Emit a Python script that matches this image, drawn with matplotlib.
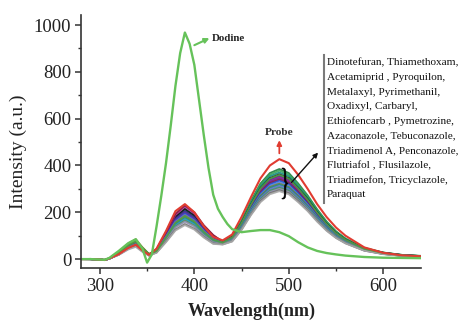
import matplotlib
matplotlib.use("Agg")
import matplotlib.pyplot as plt
from matplotlib.lines import Line2D
from matplotlib.textpath import TextPath
from matplotlib.patches import PathPatch
from matplotlib.font_manager import FontProperties
from matplotlib.transforms import Affine2D
from matplotlib.ticker import MultipleLocator

plt.rcParams['font.family'] = ['Liberation Serif', 'DejaVu Serif']

# ---------------- data ----------------
wavelength = [280, 290, 300, 305, 310, 320, 330, 338, 345, 352, 360, 370, 380, 390, 400, 410,
              420, 430, 440, 450, 460, 470, 480, 490, 500, 510, 520, 530, 540, 550, 560, 580,
              600, 620, 640]

pesticide_names = ["Dinotefuran", "Thiamethoxam", "Acetamiprid", "Pyroquilon", "Metalaxyl",
                   "Pyrimethanil", "Oxadixyl", "Carbaryl", "Ethiofencarb", "Pymetrozine",
                   "Azaconazole", "Tebuconazole", "Triadimenol A", "Penconazole", "Flutriafol",
                   "Flusilazole", "Triadimefon", "Tricyclazole", "Paraquat"]

pesticide_values = [
    [0,0,-2,-4,3,24,55,70,42,20, 39,105,177,210,182,133,94, 76, 100,164,249,323,368,385,368,323,272,213,161,119,88,48,28,18,14],
    [0,1,-2,-4,3,27,62,80,48,22, 35,95,160,190,165,120,85, 72, 98,161,245,317,361,378,361,317,267,209,158,117,87,47,28,18,13],
    [0,0,-2,-3,2,22,51,65,39,18, 37,100,168,200,174,126,90, 74, 96,158,239,310,354,370,354,310,261,205,154,114,85,46,27,17,13],
    [0,0,-3,-4,2,20,47,60,36,17, 40,108,181,215,187,136,96, 73, 94,154,234,303,346,362,346,303,256,200,151,112,83,45,27,17,13],
    [0,-1,-2,-4,3,21,48,62,37,18, 38,103,173,205,178,129,92, 72, 92,151,230,298,339,355,339,298,251,196,148,110,81,44,26,17,12],
    [0,0,-2,-4,3,23,53,68,41,19, 41,112,189,225,195,142,101, 75, 91,149,226,293,334,350,334,293,247,193,146,108,80,43,26,16,12],
    [0,0,-2,-4,2,20,45,58,35,16, 37,100,168,200,174,126,90, 70, 89,147,223,289,330,345,330,289,244,191,144,107,79,43,25,16,12],
    [0,0,-2,-4,3,24,56,72,43,20, 42,115,194,230,200,145,103, 74, 88,145,220,285,325,340,325,285,240,188,142,105,78,42,25,16,12],
    [0,0,-2,-4,2,20,47,60,36,17, 36,97,164,195,169,123,87, 70, 87,143,217,281,320,335,320,281,236,185,140,103,77,41,25,16,12],
    [0,0,-2,-4,3,21,49,63,38,18, 34,93,156,185,161,117,83, 69, 85,140,212,275,314,328,314,275,232,181,137,101,75,41,24,15,12],
    [0,1,-1,-3,4,29,66,85,51,22, 33,90,152,180,156,114,80, 68, 83,137,208,270,308,322,308,270,227,178,134,99,74,40,24,15,11],
    [0,0,-2,-4,2,22,51,66,40,18, 32,87,147,175,152,111,78, 67, 82,136,206,266,304,318,304,266,224,176,133,98,73,39,23,15,11],
    [0,0,-2,-4,2,19,44,57,34,16, 35,95,160,190,165,120,85, 68, 81,133,202,262,298,312,298,262,220,173,130,96,72,39,23,15,11],
    [0,0,-2,-4,3,22,50,64,38,18, 31,85,143,170,148,107,76, 66, 80,131,199,258,294,308,294,258,217,170,129,95,71,38,23,14,11],
    [0,0,-2,-3,3,26,58,75,45,20, 30,82,139,165,143,104,74, 66, 79,130,197,256,292,305,292,256,215,169,127,94,70,38,22,14,11],
    [0,0,-2,-4,2,19,43,55,33,15, 29,80,135,160,139,101,72, 64, 78,128,194,251,287,300,287,251,212,166,125,93,69,37,22,14,11],
    [0,0,-2,-4,2,20,45,58,35,16, 28,75,126,150,130,95,67, 63, 76,126,191,247,282,295,282,247,208,163,123,91,68,36,22,14,10],
    [0,0,-2,-4,2,18,41,52,31,15, 27,72,122,145,126,92,65, 62, 75,124,188,243,277,290,277,243,205,160,121,90,67,36,21,14,10],
    [0,0,-2,-3,3,27,61,78,47,21, 34,93,156,185,161,117,83, 71, 93,154,233,302,344,360,344,302,254,199,150,111,83,44,26,17,13],
]

pesticide_colors = ['#1e7b3c', '#3aa655', '#0f8f7f', '#111111', '#2c2c8c', '#a0208f', '#6b2d8f',
                    '#8b1a3a', '#1f4fd0', '#4a7fd9', '#7a7a20', '#188a9a', '#8060c0', '#2aa0c8',
                    '#5a8a5a', '#9090b0', '#707070', '#a8a8a8', '#4f9f3f']

probe_values = [0,0,-2,-4,3,21,48,62,37,18, 45,120,205,235,200,140,95, 80, 105,180,265,345,400,427,410,360,300,235,180,135,100,50,27,16,12]

dodine_wavelength = [280, 290, 300, 305, 310, 320, 330, 338, 345, 350, 355, 360, 365, 370, 375, 380,
                     385, 390, 395, 400, 405, 410, 415, 420, 425, 430, 435, 440, 450, 460, 470,
                     480, 490, 500, 510, 520, 530, 540, 550, 560, 580, 600, 620, 640]
dodine_values = [0, 0, -2, -3, 5, 35, 68, 85, 45, -15, 20, 140, 270, 410, 570, 740,
                 880, 968, 920, 830, 680, 530, 390, 275, 215, 180, 150, 128, 115, 120, 124,
                 124, 115, 98, 72, 50, 35, 26, 20, 15, 9, 6, 5, 4]

yticks = [0, 200, 400, 600, 800, 1000]
xticks = [300, 400, 500, 600]

legend_lines = ["Dinotefuran, Thiamethoxam,", "Acetamiprid , Pyroquilon,",
                "Metalaxyl, Pyrimethanil,", "Oxadixyl, Carbaryl,",
                "Ethiofencarb , Pymetrozine,", "Azaconazole, Tebuconazole,",
                "Triadimenol A, Penconazole,", "Flutriafol , Flusilazole,",
                "Triadimefon, Tricyclazole,", "Paraquat"]

# ---------------- figure ----------------
W, H = 463, 321
fig = plt.figure(figsize=(W / 100, H / 100), dpi=100)
ax = fig.add_axes([81 / W, 1 - 268 / H, 340 / W, 253 / H])

for name, vals, c in zip(pesticide_names, pesticide_values, pesticide_colors):
    ax.plot(wavelength, vals, color=c, lw=1.3, alpha=0.9, label=name)
ax.plot(wavelength, probe_values, color='#e03c31', lw=1.5, label='Probe')
ax.plot(dodine_wavelength, dodine_values, color='#66c25a', lw=1.7, label='Dodine')

ax.set_xlim(280, 640)
ax.set_ylim(-38, 1043)
ax.set_xticks(xticks)
ax.set_yticks(yticks)
ax.xaxis.set_minor_locator(MultipleLocator(50))
ax.yaxis.set_minor_locator(MultipleLocator(100))
for s in ['top', 'right']:
    ax.spines[s].set_visible(False)
for s in ['left', 'bottom']:
    ax.spines[s].set_linewidth(1.2)
    ax.spines[s].set_color('#333333')
ax.tick_params(which='major', direction='out', length=4, width=1.1, colors='#333333',
               labelsize=13.5, labelcolor='#222222', pad=3)
ax.tick_params(which='minor', direction='out', length=2.5, width=1.0, colors='#333333')

fig.text(18 / W, 1 - 152 / H, "Intensity (a.u.)", rotation=90, ha='center', va='center',
         fontsize=14, color='#222222')
fig.text(252 / W, 1 - 311 / H, "Wavelength(nm)", ha='center', va='center',
         fontsize=13, fontweight='bold', color='#222222')

# Dodine annotation
ax.annotate('', xy=(416, 944), xytext=(400, 914),
            arrowprops=dict(arrowstyle='-|>', color='#66c25a', lw=1.5, mutation_scale=7,
                            shrinkA=0, shrinkB=0))
ax.text(418.5, 944, "Dodine", ha='left', va='center', fontsize=7.8, fontweight='bold',
        color='#222222')

# Probe annotation
ax.annotate('', xy=(490, 508), xytext=(490, 452),
            arrowprops=dict(arrowstyle='-|>', color='#e03c31', lw=1.3, mutation_scale=7,
                            shrinkA=0, shrinkB=0))
ax.text(490, 540, "Probe", ha='center', va='center', fontsize=8.2, fontweight='bold',
        color='#333333')

# black arrow to list
ax.annotate('', xy=(531, 455), xytext=(503, 328),
            arrowprops=dict(arrowstyle='-|>', color='#111111', lw=1.0, mutation_scale=7,
                            shrinkA=0, shrinkB=0))

# brace
tp = TextPath((0, 0), '}', size=1, prop=FontProperties(family='Liberation Serif'))
bb = tp.get_extents()
trans = (Affine2D().translate(-bb.x0, -bb.y0)
         .scale(6 / bb.width / W, 31 / bb.height / H)
         .translate(282 / W, 1 - 199 / H) + fig.transFigure)
fig.add_artist(PathPatch(tp, transform=trans, facecolor='black', edgecolor='black', lw=0.4))

# list with side bar
fig.add_artist(Line2D([324 / W, 324 / W], [1 - 55 / H, 1 - 203 / H], color='#7a7a7a', lw=1.5,
                      transform=fig.transFigure))
for i, line in enumerate(legend_lines):
    fig.text(327 / W, 1 - (63 + i * 14.6) / H, line, ha='left', va='center', fontsize=8.1,
             color='#111111')

fig.savefig('out.png', dpi=100)
